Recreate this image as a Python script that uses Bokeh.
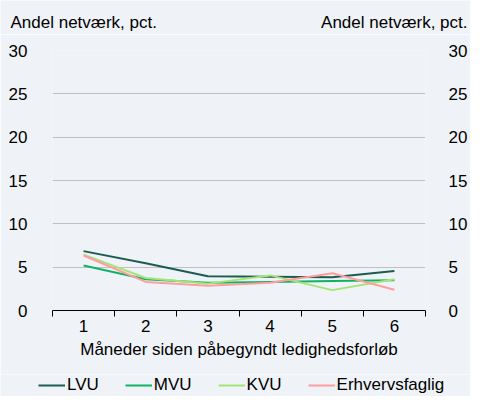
from bokeh.plotting import figure
from bokeh.models import Range1d, LinearAxis, FixedTicker, Legend, LegendItem
from bokeh.layouts import column
from bokeh.core.properties import value
from bokeh.embed import file_html
from bokeh.resources import INLINE

months = [1, 2, 3, 4, 5, 6]
lvu = [6.85, 5.45, 3.95, 3.9, 3.85, 4.55]
mvu = [5.2, 3.6, 3.2, 3.3, 3.4, 3.5]
kvu = [6.45, 3.75, 3.1, 4.05, 2.35, 3.6]
erhverv = [6.35, 3.3, 2.85, 3.2, 4.3, 2.4]
series_names = ["LVU", "MVU", "KVU", "Erhvervsfaglig"]
series_colors = ["#1c5c4f", "#12b265", "#a6e47a", "#ff9d9f"]
y_ticks = [0, 5, 10, 15, 20, 25, 30]
axis_title_y = "Andel netværk, pct."
axis_title_x = "Måneder siden påbegyndt ledighedsforløb"

FONT = "Liberation Sans"
BG = "#eff3f7"
W = 470
HEAD_H = 34
MAIN_H = 340
FOOT_H = 396 - HEAD_H - MAIN_H


def bare_fig(h, yr):
    f = figure(width=W, height=h, output_backend="svg", toolbar_location=None,
               x_range=Range1d(0, W), y_range=yr,
               x_axis_type=None, y_axis_type=None, frame_align=False,
               min_border_left=0, min_border_right=0, min_border_top=0, min_border_bottom=0,
               background_fill_color=BG, border_fill_color=BG, outline_line_color=None)
    f.xgrid.visible = False
    f.ygrid.visible = False
    return f


# header with the two y-axis titles
head = bare_fig(HEAD_H, Range1d(0, HEAD_H))
head.text(x=[10], y=[HEAD_H - 22], text=[axis_title_y], text_font=value(FONT),
          text_font_size="17px", text_color="#000000", text_align="left", text_baseline="middle")
head.text(x=[W - 3], y=[HEAD_H - 22], text=[axis_title_y], text_font=value(FONT),
          text_font_size="17px", text_color="#000000", text_align="right", text_baseline="middle")

# main chart
p = figure(width=W, height=MAIN_H, output_backend="svg", toolbar_location=None,
           x_range=Range1d(0.5, 6.5), y_range=Range1d(0, 30), frame_align=False,
           min_border_left=52, min_border_right=38, min_border_top=16, min_border_bottom=64,
           background_fill_color=BG, border_fill_color=BG, outline_line_color=None)

for vals, col in zip([lvu, mvu, kvu, erhverv], series_colors):
    p.line(months, vals, line_color=col, line_width=2)

xa = p.xaxis[0]
xa.ticker = FixedTicker(ticks=months, minor_ticks=[0.5, 1.5, 2.5, 3.5, 4.5, 5.5, 6.5])
xa.major_tick_out = 0
xa.major_tick_in = 0
xa.minor_tick_out = 6
xa.minor_tick_in = 0
xa.minor_tick_line_color = "#000000"
xa.axis_line_color = "#000000"
xa.major_label_text_font = FONT
xa.major_label_text_font_size = "17px"
xa.major_label_text_color = "#000000"
xa.major_label_standoff = 3
xa.axis_label = axis_title_x
xa.axis_label_text_font = FONT
xa.axis_label_text_font_size = "17px"
xa.axis_label_text_font_style = "normal"
xa.axis_label_text_color = "#000000"
xa.axis_label_standoff = 5

ya = p.yaxis[0]
ra = LinearAxis()
p.add_layout(ra, "right")
for ax, so in ((ya, 19), (ra, 17)):
    ax.ticker = FixedTicker(ticks=y_ticks)
    ax.axis_line_color = None
    ax.major_tick_line_color = None
    ax.minor_tick_line_color = None
    ax.major_label_text_font = FONT
    ax.major_label_text_font_size = "17px"
    ax.major_label_text_color = "#000000"
    ax.major_label_standoff = so

p.xgrid.grid_line_color = None
p.ygrid.ticker = FixedTicker(ticks=y_ticks)
p.ygrid.grid_line_color = "#c0c0c0"
p.ygrid.grid_line_width = 1.2

# footer with the legend (same series drawn out of view, only their legend glyphs show)
foot = bare_fig(FOOT_H, Range1d(1000, 1000 + FOOT_H))
items = []
for name, vals, col in zip(series_names, [lvu, mvu, kvu, erhverv], series_colors):
    r = foot.line(months, vals, line_color=col, line_width=2)
    items.append(LegendItem(label=name, renderers=[r]))
legend = Legend(items=items, orientation="horizontal", location=(38, 1),
                spacing=26, glyph_width=27, glyph_height=18, label_standoff=2,
                label_height=18, padding=0, margin=0, border_line_color=None,
                background_fill_alpha=0, label_text_font=FONT, label_text_font_size="17px",
                label_text_color="#000000")
foot.add_layout(legend, "center")

layout = column(head, p, foot, spacing=0)
open("out.html", "w").write(file_html(layout, INLINE))
